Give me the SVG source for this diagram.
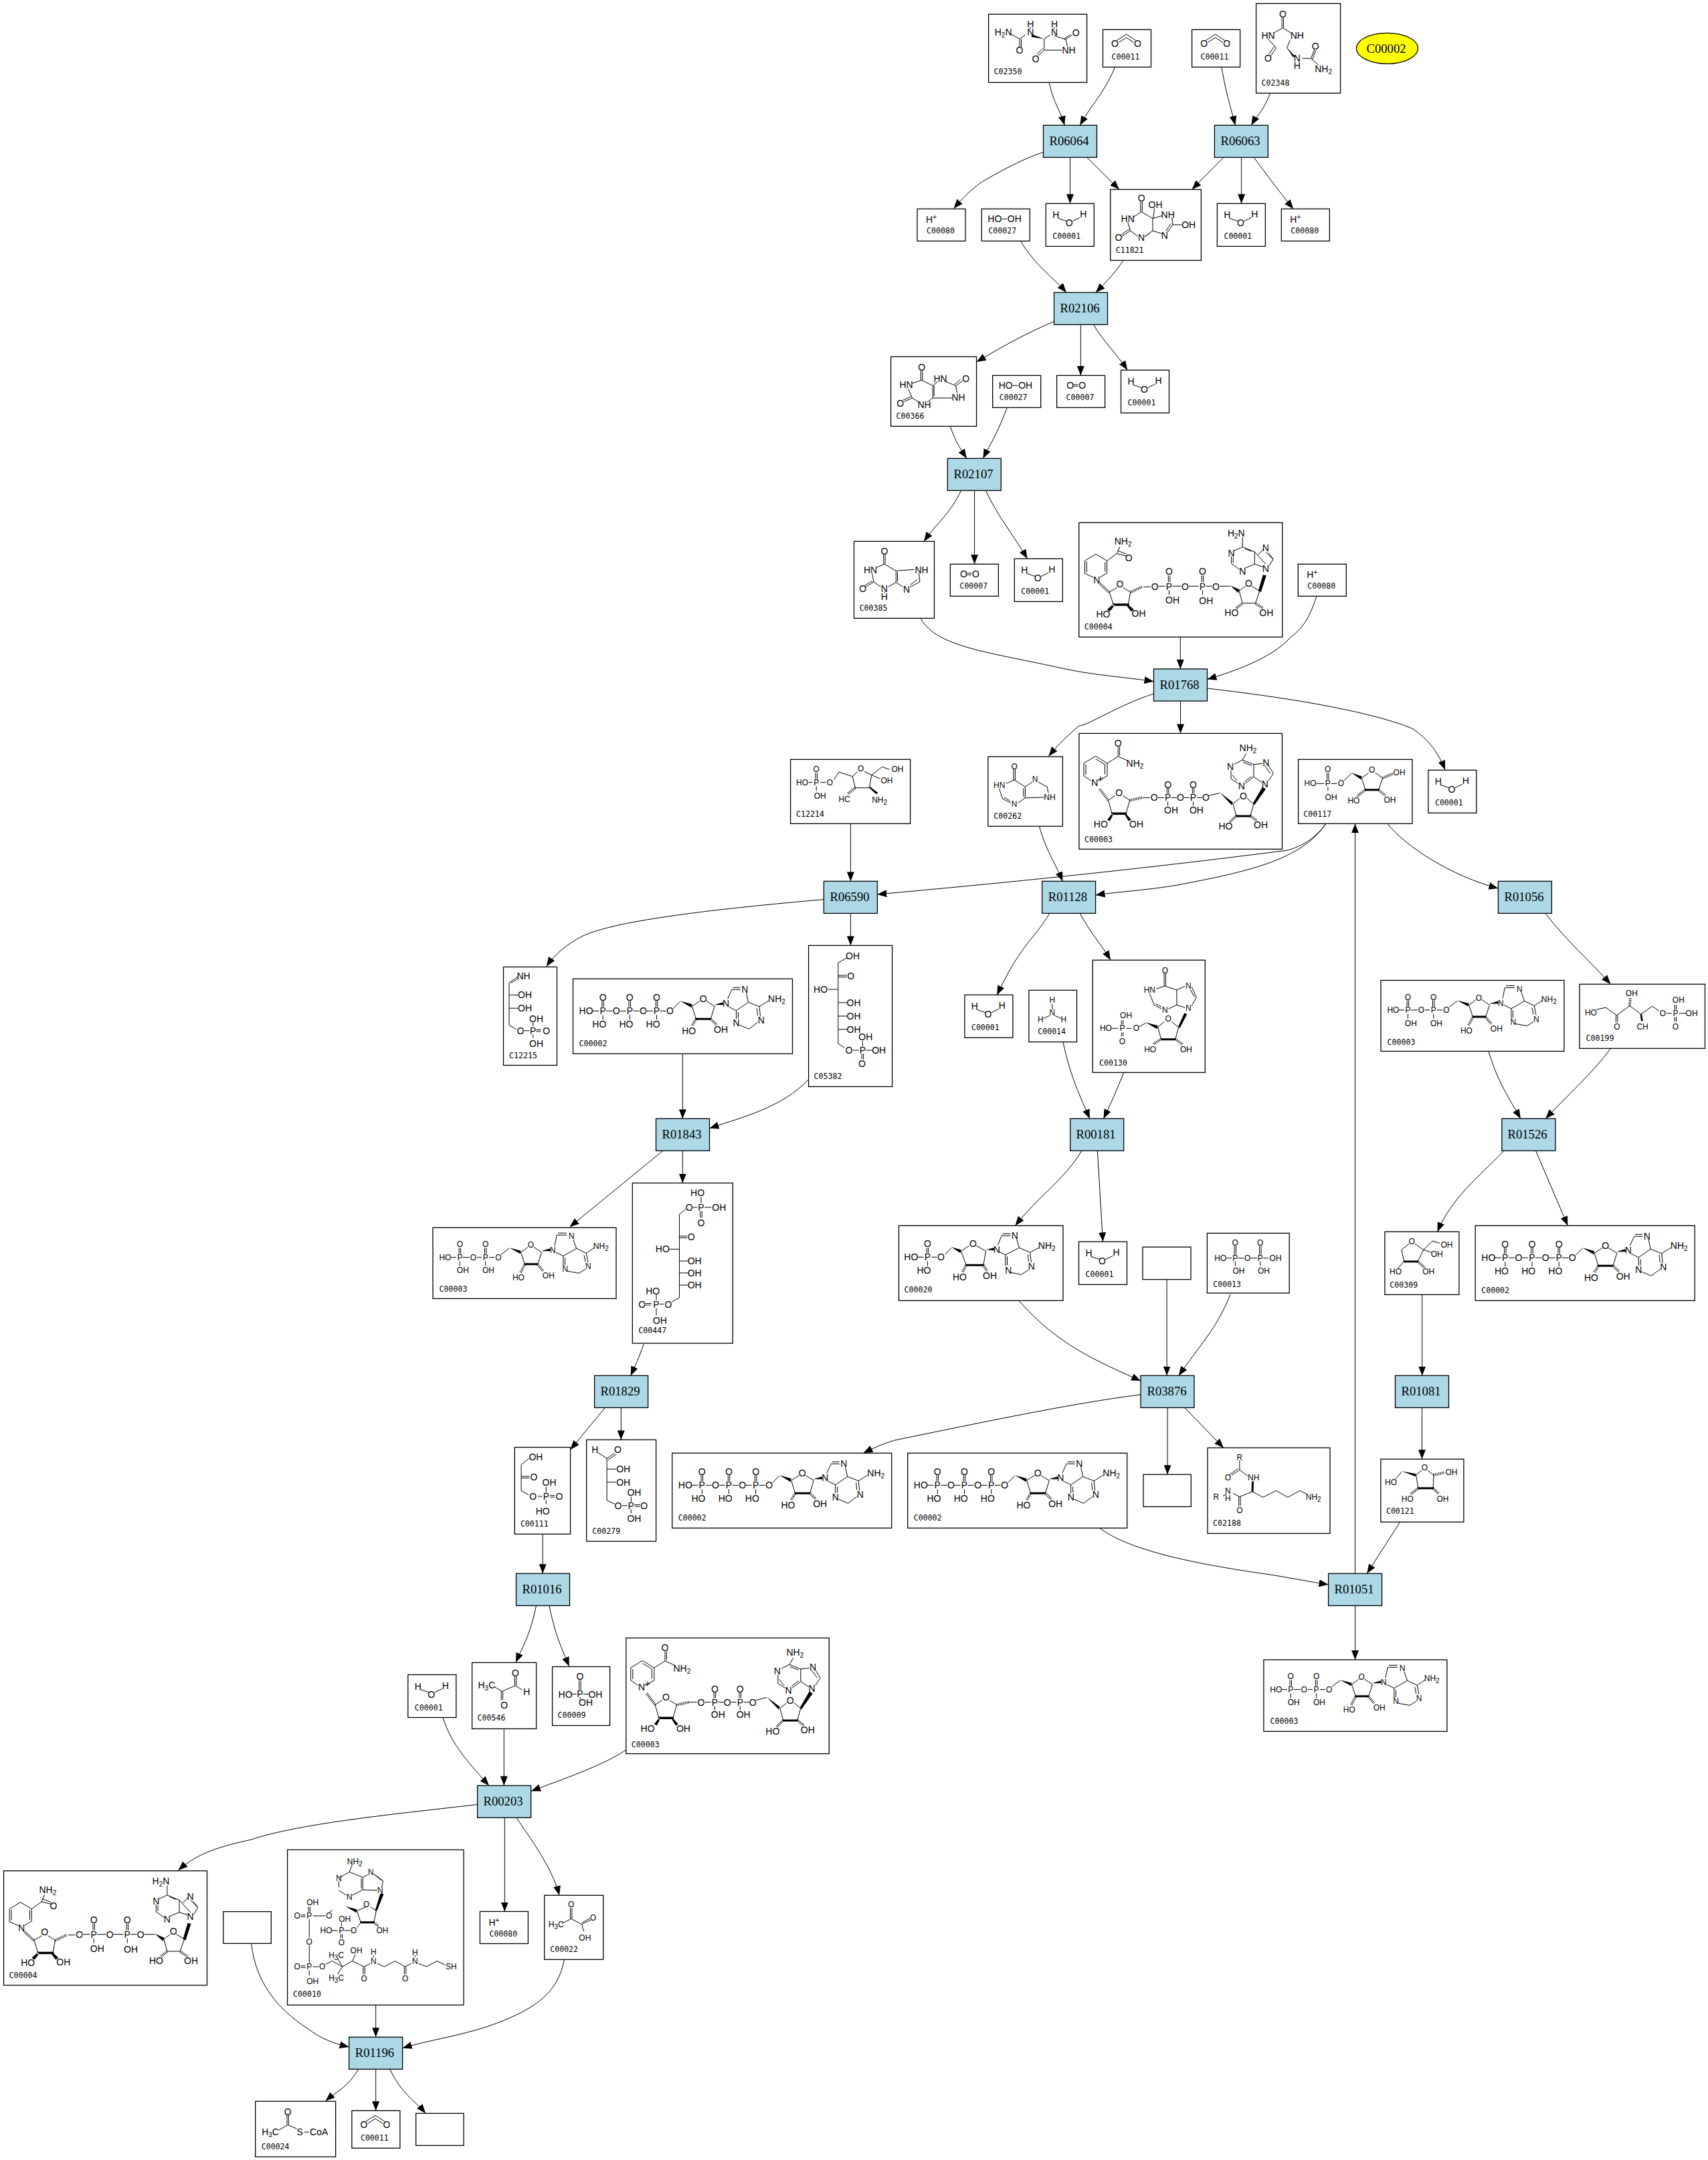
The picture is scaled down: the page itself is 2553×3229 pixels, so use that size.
<svg xmlns="http://www.w3.org/2000/svg" xmlns:xlink="http://www.w3.org/1999/xlink" width="2553" height="3229" viewBox="0 0 2553 3229">
<style>
.e path{fill:none;stroke:#000;stroke-width:1;marker-end:url(#ah)}
.n rect,.n ellipse{fill:#fff;stroke:#000;stroke-width:1.3}
.r rect{fill:#add8e6}
.y ellipse{fill:#ff0}
.r text,.y text{font:18.67px "Liberation Serif",serif;text-anchor:middle;fill:#000}
.m text{font:14px "Liberation Sans",sans-serif;text-anchor:middle;fill:#000}
.m text.l{font:11.6px "DejaVu Sans Mono",monospace;text-anchor:start}
.m text tspan{font-size:10px}
.k text{font-size:12px}
.b{fill:none;stroke:#000;stroke-width:1}
.w{fill:#000;stroke:none}
.h{fill:none;stroke:#000;stroke-width:4;stroke-dasharray:1 1.5}
</style>
<defs>
<marker id="ah" markerUnits="userSpaceOnUse" markerWidth="15" markerHeight="12" refX="14" refY="5.5" orient="auto"><path d="M0,0L14,5.5L0,11z" fill="#000"/></marker>
<g id="water"><path class="b" d="M18,22L31,26.3M51,21L40,26.3"/></g>
<g id="co2"><path class="b" d="M21,16L35,7L49,16M24,19L35,12L46,19"/></g>
<g id="atp"><path class="b" d="M28,48H39M50,48H59M70,48H79M90,48H99M110,48H119M130,48H139M43.4,42V33M45.8,42V33M83.6,42V33M86,42V33M123.8,42V33M126.2,42V33M44.6,54V61M84.8,54V61M125,54V61M150,44L160,34M178,41L190,33M199,33L211.6,41L205.8,60L183.9,60L178,41M231,30L237.5,16H250M239,13H250M259,21L262,35L244,47.4L233,42M244,47.4V60M247,50V59M249,69L263,75L276,65M280,56L278.5,41.5M276,55L275,44M262,35L278.5,41.5L292,33"/><path class="w" d="M160,33L178,38L177,43zM211,39L224,35L225,39zM183,58.5H206V61.5H183z"/><path class="h" d="M184,60L178,70M206,60L215,69"/></g>
<g id="amp"><path class="b" d="M27,47H37M49,47H57M41.7,41V33M44.1,41V33M42.9,53V60M69,43L78.6,33M93,38L105,30M116,30L130,38L126.4,59H100.6L93,38M148,29L153.6,15H167M155,12H167M176,20L180,33L159.4,43.5L150,39M159.4,43.5V60M162,46V59M167,70L183,73L194,66M198,55L196,40M194,54L193,43M180,33L196,40L209,33"/><path class="w" d="M78.6,32L93,36L92,41zM130,36L142,33L143,37zM100,57.5H127V60.5H100z"/><path class="h" d="M100.6,59L95,70M126.4,59L132,68"/></g>
<g id="adp"><path class="b" d="M27,44.4H35M45,44.4H55M66,44.4H73M84,44.4H92M39.2,39V30M41.6,39V30M77.5,39V30M79.9,39V30M40.4,50V57M78.7,50V57M102,40L114,31M131.6,37L142,29M151,29L162.5,37L156.6,54.7H137.5L131.6,37M182,27L185.3,11H200M187,8H200M210,18L214.7,31L194.9,42.3L184,37M194.9,42.3V57M197.5,45V56M201,65L218.4,68L228,62M232,52L229.3,38M228,51L226,41M214.7,31L229.3,38L241,30"/><path class="w" d="M114,30L131.6,34.5L130.6,39zM162,35L175,31L176,35zM137,53H157V56H137z"/><path class="h" d="M137.5,55L131,67M156.6,55L165,65"/></g>
<g id="nad"><path class="b" d="M58.2,20V34M60.6,20V33M58.2,34.4L73,41M58.2,34.4L42,44.6V63.4L28,71M18,71L7,63.4V44.6L24.5,34L42,44.6M10,46.5V61.5M24.5,38L38,46M38.5,46V61M54,93L43.5,100M65,93L75.8,100L70.1,119.6H49.1L43.5,100M94.7,96H106M118,96H127M138,96H146M157,96H165M176,96H184M131.4,90V81M133.8,90V81M169.3,90V81M171.7,90V81M132.6,102V108M170.5,102V108M194,93L210,89M230,105.4L240,97M251,97L260.9,105.4L256,123.2H235L230,105.4M274,45L261,46.4V65L273,73M283,48L290.4,59.8L283,71M261,46.4L244,39.7L232,46M261,65L248,75M238,75L227,67.9V55M247.5,72L258,64M250,30L244,39.7M245,43L258,48M229,62L236,71M277,48L286,60"/><path class="w" d="M210,88L230,103L228,107zM260,104L274,80L279,83L262,107zM48,118H71V121.5H48zM234,122H257V125H234zM49,120L42,129L46,131L51,121zM70,120L78,129L74,131L68,121z"/><path class="h" d="M43.5,100L30,82M75.8,100L94,96M235,123L225,133M256,123L266,131"/></g>
<g id="nadh"><path class="b" d="M72,50L56.6,46.3L61,36M58,42L71,47M56.6,46.3L41.8,57V75.3L31,82M22,82L8.7,76V57L25,47L41.8,57M11.5,58V74M39,59V73M57,97L45.4,103.7L51.5,122.7H73.5L77,103.7L66,97M96.4,96H107M119,95H129M140,95H153M164,95H179M190,95H199M133.5,89V79M136,89V79M183.5,89V79M186,89V79M134.7,101V108M184.7,101V108M210,95H226M239.3,102L249,95M258,95L270,102L263.8,120.3H244.4L239.3,102M279,62L262.5,43.7V62L275,66M279,44L290.3,54.7L284,65M276,39L268,48M283,45L290,54M262.5,43.7L244.4,36.3L232,42M244.4,36.3V22M227.8,50V61L240,70M248,68L262.5,62M230.5,52V60M248,39L258,43"/><path class="w" d="M226,94L240,100L238,105zM268,102L275,78L280,79L272,104zM50,121H75V124.5H50zM51,122L42,130L46,133L53,124zM73,122L82,130L78,133L71,124z"/><path class="h" d="M45,104L30,90M77,104L94,96M244,121L235,128M264,121L275,128"/></g>
</defs>

<g id="connectors" class="e">
<path d="M1568.4,124C1575,155 1583,160 1591.3,187.3"/>
<path d="M1666.3,101C1650,140 1632,155 1614.3,187.3"/>
<path d="M1826,101C1835,150 1837,150 1846.4,187.3"/>
<path d="M1898.5,140C1885,172 1880,170 1870.4,187.3"/>
<path d="M1559.2,227.7C1520,240 1466,273 1466,273C1450,285 1440,295 1425.5,311.7"/>
<path d="M1599.5,235.3V304.3"/>
<path d="M1625,235.7L1673,283.3"/>
<path d="M1828.6,235.7L1781.6,283.3"/>
<path d="M1855.6,235.3V304.3"/>
<path d="M1874.5,235.7C1900,270 1915,290 1933.2,312.3"/>
<path d="M1525.5,360.7C1550,400 1575,415 1593.9,437.3"/>
<path d="M1679,389.3C1665,410 1655,420 1637.8,437.3"/>
<path d="M1575,480.7C1530,500 1495,520 1459.7,541"/>
<path d="M1615.3,485.3V561.3"/>
<path d="M1634.7,485.3C1645,505 1670,530 1685.2,553.3"/>
<path d="M1420.4,637.3C1428,660 1435,670 1444.9,685.3"/>
<path d="M1505.1,610C1490,650 1482,660 1469.4,685.3"/>
<path d="M1436.7,733.3C1420,768 1402,780 1381,809.3"/>
<path d="M1456.6,733.3V843.3"/>
<path d="M1473.5,733.3C1490,770 1515,800 1535.7,835.3"/>
<path d="M1376,924.3C1400,968 1480,975 1592,1000C1640,1010 1680,1012 1724.5,1018.7"/>
<path d="M1764.3,952.3V1000"/>
<path d="M1967.8,891.7C1955,930 1945,940 1928.6,953.3C1900,985 1840,1005 1804.5,1015.6"/>
<path d="M1724.5,1037C1670,1055 1625,1085 1613,1085C1595,1100 1580,1115 1567.4,1130.4"/>
<path d="M1764.5,1048.2V1096.4"/>
<path d="M1804.5,1029C1900,1040 2040,1060 2111,1089C2135,1105 2150,1125 2160,1150.9"/>
<path d="M1271.4,1231.2V1317.4"/>
<path d="M1553.4,1235.3C1565,1275 1575,1285 1588.4,1317.4"/>
<path d="M1982,1231C1965,1255 1945,1265 1925,1271C1700,1300 1500,1320 1311.3,1337"/>
<path d="M1982,1231C1950,1280 1880,1300 1781,1319C1730,1330 1680,1332 1637.5,1338"/>
<path d="M2073.9,1231.2C2100,1265 2170,1310 2239.4,1328"/>
<path d="M2025.5,2352.3V1231.2"/>
<path d="M1271.4,1365.6V1413.4"/>
<path d="M1231.4,1344.6C1080,1358 920,1375 869.5,1400C850,1410 830,1425 816.8,1444.7"/>
<path d="M1568.8,1365.6C1545,1405 1525,1413 1490.2,1487.5"/>
<path d="M1614.4,1365.6C1630,1395 1645,1410 1660,1435.2"/>
<path d="M1589.1,1558C1600,1610 1615,1640 1629,1672.3"/>
<path d="M1679.6,1603.5C1665,1640 1660,1650 1649.5,1672.3"/>
<path d="M2310,1365.6C2340,1405 2380,1440 2407.4,1471.3"/>
<path d="M1020.3,1575.2V1672.4"/>
<path d="M1208.3,1613.9C1170,1655 1110,1670 1060.5,1686.7"/>
<path d="M990.9,1720.3L851.6,1834.2"/>
<path d="M1020.3,1720.3V1768.5"/>
<path d="M962.3,2009C955,2030 950,2040 942.7,2056.5"/>
<path d="M1616.9,1720.4C1590,1765 1550,1790 1517.6,1832.3"/>
<path d="M1640.4,1720.4L1648.5,1856.3"/>
<path d="M2225,1572C2240,1620 2255,1640 2272.8,1672.3"/>
<path d="M2407.4,1567.5C2380,1605 2340,1640 2310.3,1672.3"/>
<path d="M2247.8,1720.4C2210,1760 2170,1790 2148.5,1841.4"/>
<path d="M2295.6,1720.4L2343.4,1832.3"/>
<path d="M2125.7,1935.5V2056.5"/>
<path d="M1522.8,1944.2C1580,2010 1640,2035 1705.1,2064.2"/>
<path d="M1744.1,1912.7V2056.5"/>
<path d="M1839,1934.7C1820,1985 1790,2015 1761.9,2056.5"/>
<path d="M1705.1,2084.8C1600,2098 1450,2130 1337.6,2153C1320,2158 1305,2165 1290.5,2172.3"/>
<path d="M1745.1,2104.3V2204.2"/>
<path d="M1770.7,2104.3L1829,2164.4"/>
<path d="M2125.5,2104.3V2181.3"/>
<path d="M2092.7,2275.4L2043.2,2352.3"/>
<path d="M1643.6,2284.2C1690,2320 1800,2340 1899,2354C1930,2359 1960,2365 1985.6,2368.8"/>
<path d="M2025.6,2400.2V2481.3"/>
<path d="M904.2,2104.6L852.6,2167.1"/>
<path d="M928.3,2104.6V2152.4"/>
<path d="M811.2,2293.3V2352.3"/>
<path d="M801.5,2400.4C792,2445 782,2460 771,2485"/>
<path d="M821,2400.4C830,2445 840,2465 850.8,2491"/>
<path d="M662,2567.4C675,2610 705,2640 730.9,2669.3"/>
<path d="M753.3,2584.3V2669.3"/>
<path d="M935.8,2616C900,2640 840,2660 794,2677.5"/>
<path d="M713.7,2697.5C600,2711 450,2725 375.7,2750C330,2760 295,2770 266.6,2796"/>
<path d="M754.3,2717.5V2857.5"/>
<path d="M772.2,2717.5C790,2745 825,2790 836,2833.3"/>
<path d="M375.7,2905.7C382,2960 410,3000 460.5,3033C480,3048 500,3055 521.7,3060"/>
<path d="M561.7,2997.3V3045.3"/>
<path d="M843.4,2929.3C835,2970 815,3000 727,3030C680,3045 640,3050 601.7,3061.7"/>
<path d="M535.6,3093.3C520,3120 505,3125 486.5,3140.7"/>
<path d="M561.7,3093.3V3155.3"/>
<path d="M582.9,3093.3C600,3130 620,3140 636.2,3159.3"/>
</g>

<g id="R06064" class="n r"><rect x="1559.5" y="187.3" width="80" height="48"/><text x="1598" y="217">R06064</text></g>
<g id="R06063" class="n r"><rect x="1815.4" y="187.3" width="80" height="48"/><text x="1854" y="217">R06063</text></g>
<g id="R02106" class="n r"><rect x="1575.5" y="437.3" width="80" height="48"/><text x="1614" y="467">R02106</text></g>
<g id="R02107" class="n r"><rect x="1416.3" y="685.3" width="80" height="48"/><text x="1455" y="715">R02107</text></g>
<g id="R01768" class="n r"><rect x="1724.5" y="1000" width="80" height="48"/><text x="1763" y="1030">R01768</text></g>
<g id="R06590" class="n r"><rect x="1231.4" y="1317.4" width="80" height="48"/><text x="1270" y="1347">R06590</text></g>
<g id="R01128" class="n r"><rect x="1557.6" y="1317.4" width="80" height="48"/><text x="1596" y="1347">R01128</text></g>
<g id="R01056" class="n r"><rect x="2239.4" y="1317.4" width="80" height="48"/><text x="2278" y="1347">R01056</text></g>
<g id="R01843" class="n r"><rect x="980.5" y="1672.3" width="80" height="48"/><text x="1019" y="1702">R01843</text></g>
<g id="R00181" class="n r"><rect x="1599.7" y="1672.3" width="80" height="48"/><text x="1638" y="1702">R00181</text></g>
<g id="R01526" class="n r"><rect x="2244.9" y="1672.3" width="80" height="48"/><text x="2283" y="1702">R01526</text></g>
<g id="R01829" class="n r"><rect x="888.6" y="2056.4" width="80" height="48"/><text x="927" y="2086">R01829</text></g>
<g id="R03876" class="n r"><rect x="1705" y="2056.4" width="80" height="48"/><text x="1744" y="2086">R03876</text></g>
<g id="R01081" class="n r"><rect x="2085.5" y="2056.4" width="80" height="48"/><text x="2124" y="2086">R01081</text></g>
<g id="R01016" class="n r"><rect x="771.5" y="2352.3" width="80" height="48"/><text x="810" y="2382">R01016</text></g>
<g id="R01051" class="n r"><rect x="1985.6" y="2352.3" width="80" height="48"/><text x="2024" y="2382">R01051</text></g>
<g id="R00203" class="n r"><rect x="713.6" y="2669.3" width="80" height="48"/><text x="752" y="2699">R00203</text></g>
<g id="R01196" class="n r"><rect x="521.7" y="3045.3" width="80" height="48"/><text x="560" y="3075">R01196</text></g>
<g id="C00002-key" class="n y"><ellipse cx="2073.5" cy="72.3" rx="46" ry="23"/><text x="2072" y="79">C00002</text></g>

<g id="E1" class="n"><rect x="1708" y="1864.2" width="72" height="48.5"/></g>
<g id="E2" class="n"><rect x="1709" y="2204.2" width="71.3" height="48.2"/></g>
<g id="E3" class="n"><rect x="333.8" y="2857.7" width="71.5" height="47.6"/></g>
<g id="E4" class="n"><rect x="621.7" y="3159.3" width="71.4" height="48"/></g>

<g id="C00001-1" class="n m" transform="translate(1563.3,304.3)"><rect width="72" height="64"/><use href="#water"/><text x="15" y="22">H</text><text x="56" y="21">H</text><text x="35" y="34">O</text><text class="l" x="10" y="53">C00001</text></g>
<g id="C00001-2" class="n m" transform="translate(1819.4,304.3)"><rect width="72" height="64"/><use href="#water"/><text x="15" y="22">H</text><text x="56" y="21">H</text><text x="35" y="34">O</text><text class="l" x="10" y="53">C00001</text></g>
<g id="C00001-3" class="n m" transform="translate(1675.5,553.3)"><rect width="72" height="64"/><use href="#water"/><text x="15" y="22">H</text><text x="56" y="21">H</text><text x="35" y="34">O</text><text class="l" x="10" y="53">C00001</text></g>
<g id="C00001-4" class="n m" transform="translate(1516.3,835.3)"><rect width="72" height="64"/><use href="#water"/><text x="15" y="22">H</text><text x="56" y="21">H</text><text x="35" y="34">O</text><text class="l" x="10" y="53">C00001</text></g>
<g id="C00001-5" class="n m" transform="translate(2134.9,1151.3)"><rect width="72" height="64"/><use href="#water"/><text x="15" y="22">H</text><text x="56" y="21">H</text><text x="35" y="34">O</text><text class="l" x="10" y="53">C00001</text></g>
<g id="C00001-6" class="n m" transform="translate(1441.9,1487.3)"><rect width="72" height="64"/><use href="#water"/><text x="15" y="22">H</text><text x="56" y="21">H</text><text x="35" y="34">O</text><text class="l" x="10" y="53">C00001</text></g>
<g id="C00001-7" class="n m" transform="translate(1612.5,1856.3)"><rect width="72" height="64"/><use href="#water"/><text x="15" y="22">H</text><text x="56" y="21">H</text><text x="35" y="34">O</text><text class="l" x="10" y="53">C00001</text></g>
<g id="C00001-8" class="n m" transform="translate(609.8,2503.5)"><rect width="72" height="64"/><use href="#water"/><text x="15" y="22">H</text><text x="56" y="21">H</text><text x="35" y="34">O</text><text class="l" x="10" y="53">C00001</text></g>

<g id="C00011-1" class="n m" transform="translate(1648.5,44.3)"><rect width="72" height="56"/><use href="#co2"/><text x="18" y="26">O</text><text x="52" y="26">O</text><text class="l" x="13" y="45">C00011</text></g>
<g id="C00011-2" class="n m" transform="translate(1781.6,44.3)"><rect width="72" height="56"/><use href="#co2"/><text x="18" y="26">O</text><text x="52" y="26">O</text><text class="l" x="13" y="45">C00011</text></g>
<g id="C00011-3" class="n m" transform="translate(525.9,3155.3)"><rect width="72" height="56"/><use href="#co2"/><text x="18" y="26">O</text><text x="52" y="26">O</text><text class="l" x="13" y="45">C00011</text></g>

<g id="C00080-1" class="n m" transform="translate(1371,312.3)"><rect width="72" height="48"/><text x="21" y="21">H<tspan dy="-5">+</tspan></text><text class="l" x="14" y="37">C00080</text></g>
<g id="C00080-2" class="n m" transform="translate(1915.3,312.3)"><rect width="72" height="48"/><text x="21" y="21">H<tspan dy="-5">+</tspan></text><text class="l" x="14" y="37">C00080</text></g>
<g id="C00080-3" class="n m" transform="translate(1940.3,843.3)"><rect width="72" height="48"/><text x="21" y="21">H<tspan dy="-5">+</tspan></text><text class="l" x="14" y="37">C00080</text></g>
<g id="C00080-4" class="n m" transform="translate(717.4,2857.5)"><rect width="72" height="48"/><text x="21" y="21">H<tspan dy="-5">+</tspan></text><text class="l" x="14" y="37">C00080</text></g>

<g id="C00027-1" class="n m" transform="translate(1467.3,312.3)"><rect width="72" height="48"/><path class="b" d="M30,15H38"/><text x="19.5" y="20">HO</text><text x="49" y="20">OH</text><text class="l" x="10" y="37">C00027</text></g>
<g id="C00027-2" class="n m" transform="translate(1483.7,561.3)"><rect width="72" height="48"/><path class="b" d="M30,15H38"/><text x="19.5" y="20">HO</text><text x="49" y="20">OH</text><text class="l" x="10" y="37">C00027</text></g>
<g id="C00007-1" class="n m" transform="translate(1579.6,561.3)"><rect width="72" height="48"/><path class="b" d="M25,13.5H32M25,16H32"/><text x="20" y="20">O</text><text x="38" y="20">O</text><text class="l" x="14" y="37">C00007</text></g>
<g id="C00007-2" class="n m" transform="translate(1420.4,843.3)"><rect width="72" height="48"/><path class="b" d="M25,13.5H32M25,16H32"/><text x="20" y="20">O</text><text x="38" y="20">O</text><text class="l" x="14" y="37">C00007</text></g>

<g id="C02350" class="n m" transform="translate(1477.6,21.3)"><rect width="147" height="102"/><path class="b" d="M34,30L46.4,37L55,31M46.4,37V49M49,37V49M98,32L115.3,37.7L125,31M113,37L122,30.5M115.3,37.7L118,48M110,53.7H83.2V37L92,31M83.2,53.7L74,62M81,51L72,60M62.6,19.5V22M98.4,19.5V22"/><path class="w" d="M83.2,37L65,30L64,34z"/><text x="22" y="32">H<tspan dy="3">2</tspan><tspan dy="-3" style="font-size:14px">N</tspan></text><text x="62.6" y="20">H</text><text x="62.6" y="32">N</text><text x="98.4" y="20">H</text><text x="98.4" y="32">N</text><text x="130.6" y="33">O</text><text x="120" y="59">NH</text><text x="70.4" y="72">O</text><text x="46.4" y="59">O</text><text class="l" x="8" y="90">C02350</text></g>
<g id="C02348" class="n m" transform="translate(1877.6,5.3)"><rect width="126" height="134"/><path class="b" d="M38.6,21V36M41,21V36M39.8,36.3L26,44M39.8,36.3L52,44M18,53L30,66.3L22,78M27,64L19,76M50.5,55L46,66.3L58,80M69,82H82L87,69M84,84L89,70M82,82L93,92"/><path class="w" d="M46,66L58,79L55,80z"/><text x="18" y="52.7">HN</text><text x="61.2" y="52.7">NH</text><text x="39.8" y="20.7">O</text><text x="17.9" y="86.7">O</text><text x="61.2" y="87">N</text><text x="61.2" y="98">H</text><text x="88.7" y="69">O</text><text x="100.5" y="102.3">NH<tspan dy="3">2</tspan></text><text class="l" x="8" y="122.7">C02348</text></g>
<g id="C11821" class="n m" transform="translate(1659.7,283.3)"><rect width="135.7" height="106"/><path class="b" d="M45.2,18V33M47.6,18V33M46.4,33.3L33,42M26,49L30,61.7L17,70M29,59L16,67.5M30,61.7L41,70M52,70L63.3,61.7V43.3L46.4,33.3M63.3,43.3L78,39M63.3,61.7L77,66M59,65L51,71M66,28L64,43M92,42L93.4,52.7L85,64M90.5,51L83,62M93.4,52.7H107"/><text x="46.4" y="18">O</text><text x="67.4" y="28">OH</text><text x="26" y="48.7">HN</text><text x="12.2" y="77">O</text><text x="46.4" y="77">N</text><text x="86" y="42.3">NH</text><text x="117" y="57.7">OH</text><text x="81" y="73.3">N</text><text class="l" x="8" y="94.7">C11821</text></g>
<g id="C00366" class="n m" transform="translate(1331.6,533.3)"><rect width="128" height="104"/><path class="b" d="M44.8,21V35M47.2,21V35M46,35L31,40M46,35L62.7,43.3V61.7L54,68M64.5,43.5V59M62.7,61.7H92M62.7,43.3L70,37M82,37L97,43.3L107,36M95,41.5L104,34M97,43.3L99,54M26,48L32,61.7L20,67M30,59.5L18,65M32,61.7L44,69"/><text x="46" y="21">O</text><text x="23" y="47">HN</text><text x="14" y="74.3">O</text><text x="50" y="76.3">NH</text><text x="74" y="37.7">HN</text><text x="112" y="37.7">O</text><text x="101" y="65.7">NH</text><text class="l" x="8" y="93">C00366</text></g>
<g id="C00385" class="n m" transform="translate(1276.5,809.3)"><rect width="120" height="115"/><path class="b" d="M44.2,20V34M46.6,20V34M45.4,34L34,39M45.4,34L62.8,44V61.3L51,68M65,46V60M62.8,44L90,42M62.8,61.3L73,68M27,48L29.6,60.7L18,68M27.5,59L16,66M29.6,60.7L40,68M97,48L98.4,60.7L84,68M95,57L84,65M45.4,75V77"/><text x="45.4" y="19.7">O</text><text x="24.5" y="47.7">HN</text><text x="13.3" y="75.7">O</text><text x="45.4" y="75.7">N</text><text x="45.4" y="87.3">H</text><text x="101" y="47.7">NH</text><text x="78.6" y="76.3">N</text><text class="l" x="8" y="104">C00385</text></g>
<g id="C00004-1" class="n m" transform="translate(1612.8,781.3)"><rect width="304" height="171"/><use href="#nadh"/><text x="65.8" y="33">NH<tspan dy="3">2</tspan></text><text x="74.5" y="57.3">O</text><text x="26.5" y="90.3">N</text><text x="61.2" y="96.3">O</text><text x="36.2" y="142">HO</text><text x="89.3" y="141">OH</text><text x="113.3" y="100.3">O</text><text x="134.7" y="100.3">P</text><text x="134.7" y="78">O</text><text x="139.8" y="121">OH</text><text x="158.7" y="100.3">O</text><text x="184.7" y="100.3">P</text><text x="184.7" y="78">O</text><text x="190" y="122">OH</text><text x="204.6" y="100.3">O</text><text x="253.6" y="95.3">O</text><text x="228" y="139.7">HO</text><text x="280" y="139.7">OH</text><text x="279" y="73.7">N</text><text x="244.4" y="77.7">N</text><text x="227.8" y="50.3">N</text><text x="235" y="20.3">H<tspan dy="3">2</tspan><tspan dy="-3" style="font-size:14px">N</tspan></text><text x="279" y="43">N</text><text class="l" x="8" y="160">C00004</text></g>
<g id="C00004-2" class="n m" transform="translate(5.5,2796.7)"><rect width="304" height="171"/><use href="#nadh"/><text x="65.8" y="33">NH<tspan dy="3">2</tspan></text><text x="74.5" y="57.3">O</text><text x="26.5" y="90.3">N</text><text x="61.2" y="96.3">O</text><text x="36.2" y="142">HO</text><text x="89.3" y="141">OH</text><text x="113.3" y="100.3">O</text><text x="134.7" y="100.3">P</text><text x="134.7" y="78">O</text><text x="139.8" y="121">OH</text><text x="158.7" y="100.3">O</text><text x="184.7" y="100.3">P</text><text x="184.7" y="78">O</text><text x="190" y="122">OH</text><text x="204.6" y="100.3">O</text><text x="253.6" y="95.3">O</text><text x="228" y="139.7">HO</text><text x="280" y="139.7">OH</text><text x="279" y="73.7">N</text><text x="244.4" y="77.7">N</text><text x="227.8" y="50.3">N</text><text x="235" y="20.3">H<tspan dy="3">2</tspan><tspan dy="-3" style="font-size:14px">N</tspan></text><text x="279" y="43">N</text><text class="l" x="8" y="160">C00004</text></g>
<g id="C00003-nad1" class="n m" transform="translate(1613,1096.4)"><rect width="303.5" height="173"/><use href="#nad"/><text x="58.2" y="19.7">O</text><text x="83.5" y="50">NH<tspan dy="3">2</tspan></text><text x="23.2" y="78.2">N</text><text x="32" y="73">+</text><text x="59.6" y="93.8">O</text><text x="32.3" y="140.7">HO</text><text x="85.6" y="140.7">OH</text><text x="112.2" y="101">O</text><text x="132.6" y="101">P</text><text x="132.6" y="81.3">O</text><text x="137.5" y="119.7">OH</text><text x="151.5" y="101">O</text><text x="170.5" y="101">P</text><text x="170.5" y="81.3">O</text><text x="175.4" y="119.7">OH</text><text x="189.4" y="101">O</text><text x="245.5" y="98.3">O</text><text x="219" y="144">HO</text><text x="271.5" y="142">OH</text><text x="277.8" y="80.4">N</text><text x="252.5" y="26.9">NH<tspan dy="3">2</tspan></text><text x="226" y="54.6">N</text><text x="242.7" y="83.6">N</text><text x="279.2" y="48.3">N</text><text class="l" x="8" y="163">C00003</text></g>
<g id="C00003-nad2" class="n m" transform="translate(935.8,2448.6)"><rect width="303.5" height="173"/><use href="#nad"/><text x="58.2" y="19.7">O</text><text x="83.5" y="50">NH<tspan dy="3">2</tspan></text><text x="23.2" y="78.2">N</text><text x="32" y="73">+</text><text x="59.6" y="93.8">O</text><text x="32.3" y="140.7">HO</text><text x="85.6" y="140.7">OH</text><text x="112.2" y="101">O</text><text x="132.6" y="101">P</text><text x="132.6" y="81.3">O</text><text x="137.5" y="119.7">OH</text><text x="151.5" y="101">O</text><text x="170.5" y="101">P</text><text x="170.5" y="81.3">O</text><text x="175.4" y="119.7">OH</text><text x="189.4" y="101">O</text><text x="245.5" y="98.3">O</text><text x="219" y="144">HO</text><text x="271.5" y="142">OH</text><text x="277.8" y="80.4">N</text><text x="252.5" y="26.9">NH<tspan dy="3">2</tspan></text><text x="226" y="54.6">N</text><text x="242.7" y="83.6">N</text><text x="279.2" y="48.3">N</text><text class="l" x="8" y="163">C00003</text></g>

<g id="C00002-1" class="n m" transform="translate(856.5,1463.3)"><rect width="328" height="112"/><use href="#atp"/><text x="19.6" y="53">HO</text><text x="44.6" y="53">P</text><text x="44.6" y="33">O</text><text x="39.3" y="72.6">HO</text><text x="64.7" y="53">O</text><text x="84.8" y="53">P</text><text x="84.8" y="33">O</text><text x="79.5" y="72.6">HO</text><text x="104.9" y="53">O</text><text x="125" y="53">P</text><text x="125" y="33">O</text><text x="119.6" y="72.6">HO</text><text x="145" y="53">O</text><text x="194.6" y="34.7">O</text><text x="173.2" y="83">HO</text><text x="221" y="80.5">OH</text><text x="228.6" y="41.8">N</text><text x="256.7" y="20.8">N</text><text x="244" y="70.9">N</text><text x="281.2" y="66.7">N</text><text x="304.5" y="34.7">NH<tspan dy="3">2</tspan></text><text class="l" x="9" y="101">C00002</text></g>
<g id="C00002-2" class="n m" transform="translate(2205.2,1832.3)"><rect width="328" height="112"/><use href="#atp"/><text x="19.6" y="53">HO</text><text x="44.6" y="53">P</text><text x="44.6" y="33">O</text><text x="39.3" y="72.6">HO</text><text x="64.7" y="53">O</text><text x="84.8" y="53">P</text><text x="84.8" y="33">O</text><text x="79.5" y="72.6">HO</text><text x="104.9" y="53">O</text><text x="125" y="53">P</text><text x="125" y="33">O</text><text x="119.6" y="72.6">HO</text><text x="145" y="53">O</text><text x="194.6" y="34.7">O</text><text x="173.2" y="83">HO</text><text x="221" y="80.5">OH</text><text x="228.6" y="41.8">N</text><text x="256.7" y="20.8">N</text><text x="244" y="70.9">N</text><text x="281.2" y="66.7">N</text><text x="304.5" y="34.7">NH<tspan dy="3">2</tspan></text><text class="l" x="9" y="101">C00002</text></g>
<g id="C00002-3" class="n m" transform="translate(1004.7,2172.3)"><rect width="328" height="112"/><use href="#atp"/><text x="19.6" y="53">HO</text><text x="44.6" y="53">P</text><text x="44.6" y="33">O</text><text x="39.3" y="72.6">HO</text><text x="64.7" y="53">O</text><text x="84.8" y="53">P</text><text x="84.8" y="33">O</text><text x="79.5" y="72.6">HO</text><text x="104.9" y="53">O</text><text x="125" y="53">P</text><text x="125" y="33">O</text><text x="119.6" y="72.6">HO</text><text x="145" y="53">O</text><text x="194.6" y="34.7">O</text><text x="173.2" y="83">HO</text><text x="221" y="80.5">OH</text><text x="228.6" y="41.8">N</text><text x="256.7" y="20.8">N</text><text x="244" y="70.9">N</text><text x="281.2" y="66.7">N</text><text x="304.5" y="34.7">NH<tspan dy="3">2</tspan></text><text class="l" x="9" y="101">C00002</text></g>
<g id="C00002-4" class="n m" transform="translate(1356.7,2172.3)"><rect width="328" height="112"/><use href="#atp"/><text x="19.6" y="53">HO</text><text x="44.6" y="53">P</text><text x="44.6" y="33">O</text><text x="39.3" y="72.6">HO</text><text x="64.7" y="53">O</text><text x="84.8" y="53">P</text><text x="84.8" y="33">O</text><text x="79.5" y="72.6">HO</text><text x="104.9" y="53">O</text><text x="125" y="53">P</text><text x="125" y="33">O</text><text x="119.6" y="72.6">HO</text><text x="145" y="53">O</text><text x="194.6" y="34.7">O</text><text x="173.2" y="83">HO</text><text x="221" y="80.5">OH</text><text x="228.6" y="41.8">N</text><text x="256.7" y="20.8">N</text><text x="244" y="70.9">N</text><text x="281.2" y="66.7">N</text><text x="304.5" y="34.7">NH<tspan dy="3">2</tspan></text><text class="l" x="9" y="101">C00002</text></g>

<g id="C00003-adp1" class="n m k" transform="translate(647,1835.3)"><rect width="274" height="106"/><use href="#adp"/><text x="18.4" y="48.4">HO</text><text x="40.4" y="48.4">P</text><text x="40.4" y="29">O</text><text x="44.8" y="68">OH</text><text x="60.3" y="48.4">O</text><text x="78.7" y="48.4">P</text><text x="78.7" y="29">O</text><text x="83" y="68">OH</text><text x="97.8" y="48.4">O</text><text x="146.3" y="30">O</text><text x="127.9" y="79">HO</text><text x="172.8" y="76">OH</text><text x="179.4" y="38">N</text><text x="207.3" y="17">N</text><text x="197.8" y="66">N</text><text x="232.3" y="62">N</text><text x="251.3" y="32">NH<tspan dy="3">2</tspan></text><text class="l" x="9.6" y="96">C00003</text></g>
<g id="C00003-adp2" class="n m k" transform="translate(2064,1465.5)"><rect width="274" height="106"/><use href="#adp"/><text x="18.4" y="48.4">HO</text><text x="40.4" y="48.4">P</text><text x="40.4" y="29">O</text><text x="44.8" y="68">OH</text><text x="60.3" y="48.4">O</text><text x="78.7" y="48.4">P</text><text x="78.7" y="29">O</text><text x="83" y="68">OH</text><text x="97.8" y="48.4">O</text><text x="146.3" y="30">O</text><text x="127.9" y="79">HO</text><text x="172.8" y="76">OH</text><text x="179.4" y="38">N</text><text x="207.3" y="17">N</text><text x="197.8" y="66">N</text><text x="232.3" y="62">N</text><text x="251.3" y="32">NH<tspan dy="3">2</tspan></text><text class="l" x="9.6" y="96">C00003</text></g>
<g id="C00003-adp3" class="n m k" transform="translate(1888.9,2481.3)"><rect width="274" height="107"/><use href="#adp"/><text x="18.4" y="48.4">HO</text><text x="40.4" y="48.4">P</text><text x="40.4" y="29">O</text><text x="44.8" y="68">OH</text><text x="60.3" y="48.4">O</text><text x="78.7" y="48.4">P</text><text x="78.7" y="29">O</text><text x="83" y="68">OH</text><text x="97.8" y="48.4">O</text><text x="146.3" y="30">O</text><text x="127.9" y="79">HO</text><text x="172.8" y="76">OH</text><text x="179.4" y="38">N</text><text x="207.3" y="17">N</text><text x="197.8" y="66">N</text><text x="232.3" y="62">N</text><text x="251.3" y="32">NH<tspan dy="3">2</tspan></text><text class="l" x="9.6" y="96">C00003</text></g>

<g id="C12214" class="n m k" transform="translate(1181.6,1135.3)"><rect width="179" height="96"/><path class="b" d="M27,34.4H33M45,34.4H53M37.4,29V20M39.8,29V20M38.6,40V47M65,30L72.3,18.8L92.6,25.4L100,18M110,18L121.3,23.2L117.8,42.4H96.8L92.6,25.4M121.3,23.2L137,11L148,15M121.3,23.2L134,29"/><path class="w" d="M117,42L128,52L131,50L119,41z"/><path class="h" d="M96.8,42.4L85,52"/><text x="17.5" y="38.4">HO</text><text x="38.6" y="38.4">P</text><text x="38.6" y="18.3">O</text><text x="44.2" y="58.5">OH</text><text x="58.9" y="38.4">O</text><text x="105.2" y="17.4">O</text><text x="80.7" y="63.8">HC</text><text x="133" y="65.2">NH<tspan dy="3">2</tspan></text><text x="159.9" y="19.2">OH</text><text x="143.8" y="35.7">OH</text><text class="l" x="8.4" y="85.3">C12214</text></g>
<g id="C00262" class="n m k" transform="translate(1476.9,1131.2)"><rect width="111.5" height="104"/><path class="b" d="M38.1,19V34.8M40.5,19V34.8M39.3,34.8L27,40M16.8,48L21.7,63L34,69M24,61L33,66M45,69L55.5,61.6V45L39.3,34.8M55.5,61.6L84,60.7M55.5,45L66,38M75,38L88.4,45L90,54M53,47V60"/><text x="39.3" y="18.7">O</text><text x="16.8" y="46.9">HN</text><text x="39.3" y="74.5">N</text><text x="70.2" y="37.9">N</text><text x="92" y="64.7">NH</text><text class="l" x="8.4" y="93.3">C00262</text></g>
<g id="C00117" class="n m k" transform="translate(1940.6,1135.3)"><rect width="170.4" height="96"/><path class="b" d="M43,20V30M45.4,20V30M27,36H39M49,36H58M44.2,41V47M68,32L79.3,21M94.7,27.7L105,20M115,20L126.2,27.7L120,45.5H100.3L94.7,27.7"/><path class="w" d="M79,20L94.7,25L94,30zM99,44H121V47H99z"/><path class="h" d="M100.3,45.5L88,55M120,45.5L130,54M126.2,27.7L142,21"/><text x="18" y="40">HO</text><text x="44.2" y="40">P</text><text x="44.2" y="19">O</text><text x="49" y="60.7">OH</text><text x="63.8" y="40">O</text><text x="110" y="19.6">O</text><text x="82.8" y="65.6">HO</text><text x="136.8" y="64.7">OH</text><text x="151" y="23.6">OH</text><text class="l" x="7.7" y="85.3">C00117</text></g>
<g id="C00130" class="n m k" transform="translate(1633.3,1435.3)"><rect width="168" height="168"/><path class="b" d="M106.8,19V38.8M109.2,19V38.8M108,38.8L95,43M85,50L91.9,67L103,73M94,65L103,70M113,73L125.6,67V44.6L108,38.8M125.6,67L138,71M125.6,44.6L138,39M148,40L155,55.8L148,68M146,44L152,55M79.3,94L69,100M107,92L97.5,100.4L102.4,118.3H123.5L128.4,100.4L118,92M58,102H50M38,102H27M43,96V90M45.4,96V90M43,108V114M45.4,108V114"/><path class="w" d="M128,99L137,79L141,81L130,102zM79,93L97.5,98L96,103zM102,117H124V120H102z"/><path class="h" d="M102.4,118L90,126M123.5,118L134,126"/><text x="108" y="19.6">O</text><text x="85" y="49">HN</text><text x="108" y="79">N</text><text x="143.1" y="42.8">N</text><text x="143.1" y="75.4">N</text><text x="112.9" y="92">O</text><text x="85.9" y="138">HO</text><text x="139.6" y="138">OH</text><text x="65.2" y="105.8">O</text><text x="44.2" y="105.8">P</text><text x="19.6" y="105.8">HO</text><text x="49.8" y="86.6">OH</text><text x="44.2" y="125.9">O</text><text class="l" x="9.8" y="157.6">C00130</text></g>
<g id="C00014" class="n m k" transform="translate(1537.9,1480.3)"><rect width="71.6" height="77.3"/><path class="b" d="M35,20V29M31,38L22,42M39,38L48,42"/><text x="35" y="19.2">H</text><text x="35" y="38">N</text><text x="17.5" y="48.2">H</text><text x="51.9" y="48.2">H</text><text class="l" x="13.3" y="66">C00014</text></g>
<g id="C05382" class="n m" transform="translate(1208.6,1413.4)"><rect width="125" height="211"/><path class="b" d="M58,18L44.2,26V146.7L54,153M44.2,44.7H57M44.2,47.2H57M29,65.6H44.2M44.2,85.4H58M44.2,105.6H58M44.2,125.4H58M66,156.6H75M86,156.6H96M80.8,143V151M79.6,162V170M82,162V170"/><text x="66" y="20.4">OH</text><text x="63" y="50.9">O</text><text x="18" y="70.6">HO</text><text x="67.4" y="90.4">OH</text><text x="67.4" y="110.6">OH</text><text x="67.4" y="130.4">OH</text><text x="60.3" y="161.6">O</text><text x="80.8" y="161.6">P</text><text x="85.2" y="141.4">OH</text><text x="105.1" y="161.6">OH</text><text x="79.9" y="181.3">O</text><text class="l" x="8" y="200">C05382</text></g>
<g id="C12215" class="n m" transform="translate(752.5,1445.5)"><rect width="80" height="147"/><path class="b" d="M8.5,23.7L22,14M11,24L23,17M8.5,23.7V87L19,93M8.5,41.9H22M8.5,61.7H22M31,95.3H39M49,94H56M49,96.5H56M44.2,89V83M44.2,101V106"/><text x="30" y="18.4">NH</text><text x="32.1" y="46.9">OH</text><text x="32.1" y="66.7">OH</text><text x="25.4" y="100.3">O</text><text x="44.2" y="100.3">P</text><text x="49.1" y="82">OH</text><text x="64.3" y="100.3">O</text><text x="49.1" y="119.3">OH</text><text class="l" x="8.5" y="136">C12215</text></g>
<g id="C00447" class="n m" transform="translate(945.3,1768.5)"><rect width="150" height="239.6"/><path class="b" d="M70.2,46.7L80,39M90,36.4H97M108,36.4H118M101.5,42V52M103.9,42V52M102.7,30V21M70.2,46.7V171.2L59,178M70.2,79.4H82M70.2,82H82M55,98.9H70.2M70.2,116.6H84M70.2,134.4H84M70.2,152.6H84M47,181H41M28,180H20M28,182.5H20M35.7,175V167M35.7,187V198"/><text x="97.3" y="19.6">HO</text><text x="102.7" y="41.4">P</text><text x="84.8" y="41.4">O</text><text x="129.5" y="41.4">OH</text><text x="102.7" y="64.3">O</text><text x="88" y="85.7">O</text><text x="45" y="103.9">HO</text><text x="92.9" y="121.6">OH</text><text x="92.9" y="139.4">OH</text><text x="92.9" y="157.6">OH</text><text x="53.6" y="186">O</text><text x="35.7" y="186">P</text><text x="30.4" y="166.4">HO</text><text x="14.3" y="186">O</text><text x="41" y="210.9">OH</text><text class="l" x="9" y="224">C00447</text></g>

<g id="C00020" class="n m" transform="translate(1343.5,1832.3)"><rect width="245.5" height="112"/><use href="#amp"/><text x="42.9" y="31.5">O</text><text x="18.3" y="51.7">HO</text><text x="42.9" y="51.7">P</text><text x="63" y="51.7">O</text><text x="37.5" y="71.4">HO</text><text x="110.9" y="31.9">O</text><text x="91" y="81.7">HO</text><text x="136" y="79.6">OH</text><text x="146.2" y="41">N</text><text x="173.4" y="19.5">N</text><text x="163.9" y="71.3">N</text><text x="198.4" y="66">N</text><text x="221.2" y="34.8">NH<tspan dy="3">2</tspan></text><text class="l" x="8" y="100">C00020</text></g>
<g id="C00199" class="n m k" transform="translate(2361,1471.3)"><rect width="187.5" height="96"/><path class="b" d="M25,38L39,34.8L55.6,46.4L74.9,32.3L91.9,44.8L108.8,33L119,40M54.4,46V57M56.8,46V57M130,43.5H138M149,43.5H159M142.2,38V31M144.6,38V31M142.2,49V56M144.6,49V56"/><path class="w" d="M90.5,45L93,45L95,55H92z"/><path class="h" d="M74.9,32L76,20"/><text x="16.9" y="47">HO</text><text x="55.9" y="67.4">O</text><text x="77.8" y="17.7">OH</text><text x="94.1" y="67.4">CH</text><text x="124.3" y="47.5">O</text><text x="143.4" y="47.5">P</text><text x="147.8" y="27.6">OH</text><text x="167.6" y="47.5">OH</text><text x="143.4" y="67.4">O</text><text class="l" x="9.6" y="85">C00199</text></g>
<g id="C00309" class="n m k" transform="translate(2069.9,1841.4)"><rect width="111" height="94"/><path class="b" d="M36,18L25,26.9L28.7,44.4H49.3L58,26.9L45,18M58,26.9L71.2,13.7L82,17M58,26.9L70,31"/><path class="w" d="M28,43H50V46H28z"/><path class="b" d="M28.7,44.4L20,54"/><path class="h" d="M49.3,44.4L60,54"/><text x="40.4" y="18.5">O</text><text x="92.5" y="24">OH</text><text x="77.8" y="37.2">OH</text><text x="16.2" y="64">HO</text><text x="65.4" y="64">OH</text><text class="l" x="7.4" y="84">C00309</text></g>
<g id="C00013" class="n m k" transform="translate(1804.4,1843.5)"><rect width="122.8" height="89.5"/><path class="b" d="M40.7,19V32M43.1,19V32M78.2,19V32M80.6,19V32M29,37.3H37M46,37.3H55M65,37.3H75M84,37.3H92M41.9,42V49M79.4,42V49"/><text x="41.9" y="18.5">O</text><text x="79.4" y="18.5">O</text><text x="19.9" y="41.3">HO</text><text x="41.9" y="41.3">P</text><text x="47.1" y="60.4">OH</text><text x="60.3" y="41.3">O</text><text x="79.4" y="41.3">P</text><text x="102.2" y="41.3">OH</text><text x="84.6" y="60.4">OH</text><text class="l" x="8.8" y="80">C00013</text></g>
<g id="C02188" class="n m k" transform="translate(1805,2164.4)"><rect width="183" height="128"/><path class="b" d="M47.9,19V32.9L36,41M45.5,31L33,40M47.9,32.9L60,42M67.1,65.5L47.9,73.1M46.7,73V87M49.1,73V87M38,68L47.9,73.1M67.1,65.5L83,73.9L102.3,63.9L119.9,73.9L138.3,63.9L148,69M23,72L28,69"/><path class="w" d="M65.5,65.5L68.5,65.5L69,50H66z"/><text x="47.9" y="18.9">R</text><text x="30.4" y="48.4">O</text><text x="68.7" y="48.8">NH</text><text x="47.9" y="97.8">O</text><text x="30.4" y="68.7">N</text><text x="30.4" y="79.8">H</text><text x="12.8" y="77.9">R</text><text x="158.2" y="77.9">NH<tspan dy="3">2</tspan></text><text class="l" x="8" y="116.7">C02188</text></g>
<g id="C00121" class="n m k" transform="translate(2063.9,2181.3)"><rect width="124" height="94"/><path class="b" d="M61,17L52.7,23.7L56,43.6H78.3L79.1,23.7L70,17M31.2,19.1L22,30"/><path class="w" d="M31,18L52.7,22L52,26zM55,42H79V45H55z"/><path class="h" d="M79,23.7L95,20M56,43.6L45,52M78.3,43.6L87,52"/><text x="65.5" y="17">O</text><text x="105.5" y="23.9">OH</text><text x="15.2" y="39.2">HO</text><text x="39.9" y="64">HO</text><text x="92.6" y="64">OH</text><text class="l" x="8" y="82">C00121</text></g>
<g id="C00111" class="n m" transform="translate(769.3,2163.6)"><rect width="83.3" height="129.7"/><path class="b" d="M22,16L9.8,26V65L21,71M9.8,43.4H22M9.8,45.9H22M35,73.3H41M53,72H60M53,74.5H60M47,68V59M47,79V85"/><text x="31.6" y="19.3">OH</text><text x="28.7" y="49.6">O</text><text x="27.5" y="78.3">O</text><text x="47" y="78.3">P</text><text x="51.7" y="57">OH</text><text x="66.6" y="78.3">O</text><text x="41.9" y="100">HO</text><text class="l" x="8.6" y="118">C00111</text></g>
<g id="C00279" class="n m" transform="translate(876.7,2152.4)"><rect width="103.9" height="151.7"/><path class="b" d="M17,19L30.4,27.8L42,20M32,30L44,22M30.4,27.8V90.6L42,96M30.4,43.8H44M30.4,63.3H44M53,98.4H61M72,97H80M72,99.5H80M66.6,93V85M66.6,104V110"/><text x="12.6" y="19.7">H</text><text x="46.7" y="19.7">O</text><text x="55" y="48.8">OH</text><text x="55" y="68.3">OH</text><text x="47.2" y="103.4">O</text><text x="66.6" y="103.4">P</text><text x="71.2" y="83.5">OH</text><text x="86.1" y="103.4">O</text><text x="71.2" y="123">OH</text><text class="l" x="8.6" y="141">C00279</text></g>
<g id="C00546" class="n m" transform="translate(705.6,2485.4)"><rect width="96" height="99"/><path class="b" d="M33,36L44.8,43L64.9,34.3L75,41M43.6,43V56M46,43V56M63.7,34V21M66.1,34V21"/><text x="21.8" y="38.8">H<tspan dy="3">3</tspan><tspan dy="-3" style="font-size:14px">C</tspan></text><text x="48.2" y="68.3">O</text><text x="64.9" y="20.6">O</text><text x="81.6" y="48.4">H</text><text class="l" x="8" y="87">C00546</text></g>
<g id="C00009" class="n m" transform="translate(825.6,2491.5)"><rect width="86" height="88"/><path class="b" d="M40.1,20V35M42.5,20V35M27,41H36M46,41H55M41.3,46V49"/><text x="41.3" y="19.7">O</text><text x="41.3" y="45.8">P</text><text x="19.5" y="46.6">HO</text><text x="64.3" y="46.2">OH</text><text x="50" y="58.8">OH</text><text class="l" x="8" y="76.8">C00009</text></g>
<g id="C00022" class="n m k" transform="translate(813.7,2833.3)"><rect width="88" height="96"/><path class="b" d="M38.8,19V35M41.2,19V35M40,35L27,42M40,35L55.8,43.3L69,37M56,41L68,34.5M55.8,43.3L59,54"/><text x="40" y="18">O</text><text x="17.5" y="48">H<tspan dy="3">3</tspan><tspan dy="-3" style="font-size:12px">C</tspan></text><text x="72.7" y="38">O</text><text x="60.6" y="67.3">OH</text><text class="l" x="8.5" y="84.3">C00022</text></g>
<g id="C00010" class="n m k" transform="translate(429.6,2765.3)"><rect width="263.5" height="232"/><path class="b" d="M97,22L92.7,33L77,42M92.7,33L112.7,41.3V59.7L97,68M110.5,43V58M112.7,41.3L120,37M129,36L143,46.3L141,56M131,38L141,46M112.7,59.7L134,60.7M77,47V56M88,68L77,60.7M31.5,93V85M33.9,93V85M38,98.7H57M27,97.5H20M27,100H20M32.7,104V131M32.7,143V169M27,173.5H20M27,176H20M32.7,180V188M38,174.7H47M57,171L67,166.3L82,174.7L97,166.3L114.5,174.7L124,170M82,174.7L75,162M82,174.7L75,186M97,166.3L102,156M113.3,175V186M115.7,175V186M134,170L144.6,174.7L161,166.3L176,174.7L185,170M174.8,175V186M177.2,175V186M196,170L207.7,174.7L223.4,166.3L236,172M128.8,158V161M190.7,158V161M67,90L62,95M118,85L103.8,91.3L109.8,108.7H129.2L132.8,91.3L124,85M94,120.7H85M75,120.7H66M80.8,115V109M79.6,126V132M82,126V132M109.8,108.7L104,116"/><path class="w" d="M131,91L139,65L144,66L134,91zM86.7,84.5L103.8,89L103,94zM109,107H130V110H109z"/><path class="h" d="M129.2,108.7L137,115"/><text x="100.6" y="22">NH<tspan dy="3">2</tspan></text><text x="77" y="46.5">N</text><text x="92.7" y="75">N</text><text x="124.8" y="37.5">N</text><text x="138.7" y="65">N</text><text x="118" y="85.5">O</text><text x="141.9" y="125">OH</text><text x="62.4" y="103">O</text><text x="32.7" y="103">P</text><text x="37.6" y="83">OH</text><text x="14.5" y="103">O</text><text x="32.7" y="141.5">O</text><text x="32.7" y="179">P</text><text x="14.5" y="179">O</text><text x="37.6" y="201">OH</text><text x="52" y="179">O</text><text x="99" y="125">O</text><text x="80.8" y="125">P</text><text x="85.6" y="108">OH</text><text x="58" y="125">HO</text><text x="80.8" y="143">O</text><text x="73" y="161.5">H<tspan dy="3">3</tspan><tspan dy="-3" style="font-size:12px">C</tspan></text><text x="73" y="195.5">H<tspan dy="3">3</tspan><tspan dy="-3" style="font-size:12px">C</tspan></text><text x="103" y="155">OH</text><text x="114.5" y="196.5">O</text><text x="128.8" y="170.5">N</text><text x="128.8" y="157">H</text><text x="176" y="197">O</text><text x="190.7" y="170.5">N</text><text x="190.7" y="158">H</text><text x="244.8" y="179">SH</text><text class="l" x="8.5" y="219.7">C00010</text></g>
<g id="C00024" class="n m" transform="translate(381.7,3141.3)"><rect width="120" height="83"/><path class="b" d="M47.3,20V35M49.7,20V35M48.5,35.3L35,43M48.5,35.3L62,41M73,46H80"/><text x="48.5" y="20.3">O</text><text x="22.4" y="51">H<tspan dy="3">3</tspan><tspan dy="-3" style="font-size:14px">C</tspan></text><text x="66.6" y="51">S</text><text x="95" y="51">CoA</text><text class="l" x="9" y="72">C00024</text></g>
</svg>
